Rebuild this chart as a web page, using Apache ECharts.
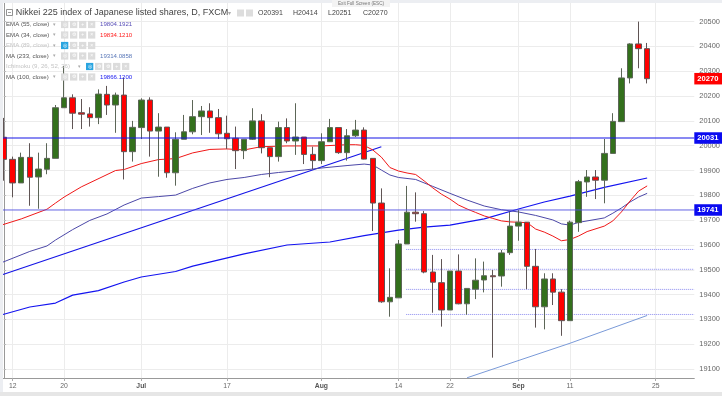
<!DOCTYPE html>
<html><head><meta charset="utf-8">
<style>html,body{margin:0;padding:0;background:#fff}#c{width:722px;height:396px}</style>
<script src="https://cdn.jsdelivr.net/npm/echarts@6/dist/echarts.min.js"></script>
</head><body><div id="c"></div>
<script>
const categories = ['9','12','13','14','15','16','19','20','21','22','23','26','27','28','29','30','Jul','4','5','6','7','10','11','12','13','14','17','18','19','20','21','24','25','26','27','28','31','Aug','2','3','4','7','8','9','10','11','14','15','16','17','18','21','22','23','24','25','28','29','30','31','Sep','4','5','6','7','8','11','12','13','14','15','18','19','20','21','22','25','26','27','28','29'];
const tickIndex = [1,7,16,26,37,46,52,60,66,76];
const opens = [20034,19945,19850,19953,19874,19905,19949,20153,20193,20133,20128,20113,20207,20164,20204,19976,20073,20184,20059,20075,19891,20026,20056,20117,20140,20113,20050,20030,19980,20026,20100,19992,19956,20073,20019,20035,19965,19940,20016,20073,19972,20040,20063,19949,19769,19371,19387,19604,19732,19726,19491,19448,19338,19495,19363,19422,19459,19476,19475,19569,19676,19692,19514,19351,19463,19410,19295,19690,19854,19874,19861,19969,20097,20273,20410,20391];
const closes = [19945,19850,19953,19873,19906,19949,20153,20193,20131,20127,20113,20208,20164,20204,19976,20074,20184,20059,20075,19891,20026,20056,20117,20140,20113,20048,20028,19980,20026,20100,19992,19956,20073,20019,20035,19965,19940,20016,20073,19972,20040,20063,19946,19769,19371,19389,19604,19732,19726,19491,19450,19338,19495,19363,19425,19458,19476,19472,19568,19676,19692,19514,19351,19463,19410,19295,19692,19855,19874,19861,19969,20098,20273,20410,20391,20270];
const lows = [19859,19792,19850,19758,19746,19885,19949,20152,20067,20067,20077,20087,20124,20052,19864,19936,20027,19956,19875,19871,19839,20026,20046,20043,20052,20027,19987,19906,19946,20023,19969,19873,19936,20010,19963,19926,19905,19926,20016,19967,19940,20035,19945,19656,19367,19311,19387,19604,19694,19486,19327,19271,19338,19361,19319,19382,19409,19146,19432,19560,19617,19422,19267,19260,19358,19234,19295,19653,19794,19785,19768,19969,20097,20251,20312,20251];
const highs = [20112,19956,19972,20010,19972,20010,20164,20321,20207,20188,20155,20227,20241,20214,20274,20100,20191,20195,20131,20075,20054,20124,20184,20160,20171,20148,20121,20077,20027,20151,20127,19992,20097,20110,20171,20035,19996,20050,20108,20073,20067,20104,20074,19949,19828,19506,19620,19838,19812,19737,19560,19543,19495,19562,19425,19546,19533,19499,19580,19734,19741,19692,19584,19486,19486,19422,19698,19862,19902,19902,20027,20131,20312,20413,20500,20414];
const ema34 = [[-0.13,19682],[0,19684],[2,19705],[5,19744],[6,19769],[7,19793],[9,19834],[13,19900],[14,19904],[16,19928],[18,19944],[20,19948],[22,19971],[24,19985],[26,19987],[28,19983],[30,19996],[33,19999],[37,19999],[40,20004],[41,20004],[42,20001],[43,19983],[44,19954],[45,19912],[46,19898],[47,19890],[48,19884],[49,19858],[50,19830],[51,19805],[52,19785],[53,19761],[54,19745],[55,19731],[56,19717],[57,19707],[58,19697],[59,19693],[61,19690],[62,19664],[63,19652],[64,19636],[65,19617],[66,19622],[67,19636],[68,19654],[70,19676],[71,19697],[72,19733],[73,19777],[74,19817],[75,19838]];
const ema55 = [[-0.13,19531],[0,19533],[3,19574],[5,19596],[6,19620],[8,19662],[10,19699],[12,19725],[14,19761],[16,19789],[18,19795],[20,19801],[22,19828],[24,19850],[26,19864],[28,19872],[30,19884],[32,19892],[35,19902],[37,19910],[40,19920],[42,19926],[43,19922],[44,19902],[45,19882],[46,19872],[48,19864],[50,19836],[52,19808],[54,19781],[56,19757],[58,19742],[60,19733],[62,19719],[64,19701],[65,19685],[66,19680],[67,19691],[70,19709],[71,19728],[72,19749],[73,19773],[74,19793],[75,19808]];
const ma100 = [[-0.13,19320],[0,19322],[3,19350],[6,19366],[8,19398],[11,19416],[14,19451],[16,19471],[20,19493],[22,19515],[28,19564],[33,19600],[38,19612],[42,19638],[46,19660],[49,19672],[52,19680],[56,19705],[60,19745],[63,19773],[66,19797],[70,19832],[75,19870]];
const ma233 = [[54,19065],[66,19204],[75,19316]];
const trendLine = [[-0.13,19481],[44,19996]];
const resistance = 20031, support = 19741, lastPrice = 20270;
const fibLevels = [19582,19502,19421,19320];
const yTicks = [19100,19200,19300,19400,19500,19600,19700,19800,19900,20000,20100,20200,20300,20400,20500];
const titleText = 'Nikkei 225 index of Japanese listed shares, D, FXCM';
const ohlcText = ['O20391','H20414','L20251','C20270'];
const legendRows = [
 ['EMA (55, close)','19804.1921','#5a50b8',false],
 ['EMA (34, close)','19834.1210','#ff2020',false],
 ['EMA (89, close)','','',true],
 ['MA (233, close)','19314.0858','#5a78b8',false],
 ['Ichimoku (9, 26, 52, 26)','','',true],
 ['MA (100, close)','19866.1200','#2020f0',false]
];

const font = 'Liberation Sans';
const candles = opens.map((o,i)=>[o,closes[i],lows[i],highs[i]]);
const flat = (name,data,color,width,type,z) => ({name,type:'line',xAxisIndex:1,yAxisIndex:0,data,symbol:'none',silent:true,z:z||2,
  lineStyle:{color,width,type:type||'solid'}});
const tagged = (value,line,bg,width) => Object.assign(flat('L'+value,[[-0.5,value],[80.5,value]],line,width),{
  z:6,endLabel:{show:true,distance:0,formatter:String(value),color:'#fff',fontFamily:font,fontWeight:'bold',fontSize:7.6,
    backgroundColor:bg,align:'left',verticalAlign:'middle',width:22,height:7.5,lineHeight:7.5,padding:[2,3,2,3]}});
const graphic = [];
const txt=(x,y,t,fs,fill,extra)=>graphic.push({type:'text',x,y,z:50,silent:true,style:Object.assign({text:t,fontFamily:font,fontSize:fs,fill,textVerticalAlign:'middle'},extra||{})});
const rect=(x,y,w,h,fill,stroke)=>graphic.push({type:'rect',z:49,silent:true,shape:{x,y,width:w,height:h},style:{fill,stroke:stroke||null,lineWidth:stroke?0.8:0}});
rect(0,0,722,3,'#eceef2'); rect(0,0,3,396,'#eceef2'); rect(0,392,722,4,'#e6e6e6');
rect(332,0,58,7,'#f3f3f3');
txt(361,4,'Exit Full Screen (ESC)',4.6,'#777',{textAlign:'center'});
rect(6.5,9.5,6,6,'#fff','#777'); rect(8,12.2,3,0.7,'#777');
txt(15.7,13,titleText,9,'#444');
txt(228,13,'▾',6,'#aaa');
rect(237,9.5,7,7,'#ddd');rect(246,9.5,7,7,'#ddd');
[0,1,2,3].forEach(i=>txt(258+i*35,13,ohlcText[i],7,'#444'));
legendRows.forEach((r,i)=>{
  const y=24.5+i*10.5, hidden=r[3], ichi=i===4;
  txt(6,y,r[0],6.1,hidden?'#c4c4c4':'#555');
  const x0=ichi?86:61, n=ichi?5:4;
  txt(x0-8,y,'▾',5,'#aaa');
  for(let j=0;j<n;j++){
    rect(x0+j*9,y-3.6,7.3,7.2,(hidden&&j===0)?'#2aa5e0':'#dcdcdc');
    txt(x0+j*9+3.65,y,j===0?'◎':j===n-1?'×':j===n-2?'+':'⚙',5,'#fff',{textAlign:'center'});
  }
  if(r[1]) txt(100,y,r[1],6.1,r[2]);
});

const chart = echarts.init(document.getElementById('c'),null,{renderer:'canvas'});
chart.setOption({
  animation:false,backgroundColor:'#fff',
  grid:{left:-0.2,right:27.7,top:3,bottom:18,containLabel:false,outerBoundsMode:'none'},
  xAxis:[{type:'category',data:categories,boundaryGap:true,
      axisLine:{lineStyle:{color:'#999',width:1}},
      axisTick:{show:true,alignWithLabel:true,length:3,lineStyle:{color:'#aaa'},interval:i=>tickIndex.includes(i)},
      splitLine:{show:true,alignWithLabel:true,interval:i=>tickIndex.includes(i),lineStyle:{color:'#ececec',width:1}},
      axisLabel:{interval:i=>tickIndex.includes(i),margin:4.5,fontFamily:font,fontSize:6.8,color:'#666',
        formatter:v=>isNaN(+v)?'{b|'+v+'}':v,
        rich:{b:{fontFamily:font,fontSize:6.8,fontWeight:'bold',color:'#555'}}}},
    {type:'value',show:false,min:-0.5,max:80.5,splitLine:{show:false}}],
  yAxis:{type:'value',position:'right',min:19064,max:20575,scale:true,
    axisLine:{show:true,lineStyle:{color:'#999',width:1}},
    axisTick:{show:true,length:2,lineStyle:{color:'#bbb'},customValues:yTicks},
    splitLine:{show:true,lineStyle:{color:'#ececec',width:1}},
    axisLabel:{customValues:yTicks,margin:5,fontFamily:font,fontSize:7.4,color:'#666',formatter:v=>String(v)}},
  graphic,
  series:[
    flat('MA233',ma233,'#7a9ad8',1),
    ...fibLevels.map(v=>flat('Fib'+v,[[46.9,v],[80.5,v]],'#8c8cf0',1,'dotted')),
    flat('Trend',trendLine,'#1414e6',1.2),
    flat('MA100',ma100,'#1414f0',1.2),
    flat('EMA55',ema55,'#4c48a8',1),
    flat('EMA34',ema34,'#f01818',1),
    tagged(resistance,'#1414e6','#0a0af0',1.1),
    tagged(support,'#5050e0','#0a0af0',0.9),
    tagged(lastPrice,'rgba(0,0,0,0)','#ff0000',0),
    {type:'candlestick',data:candles,barWidth:6,z:3,silent:true,
      itemStyle:{color:'#33701c',color0:'#ff0000',borderColor:'#5c6657',borderColor0:'#5f5454',borderWidth:1}}
  ]
});
</script></body></html>
